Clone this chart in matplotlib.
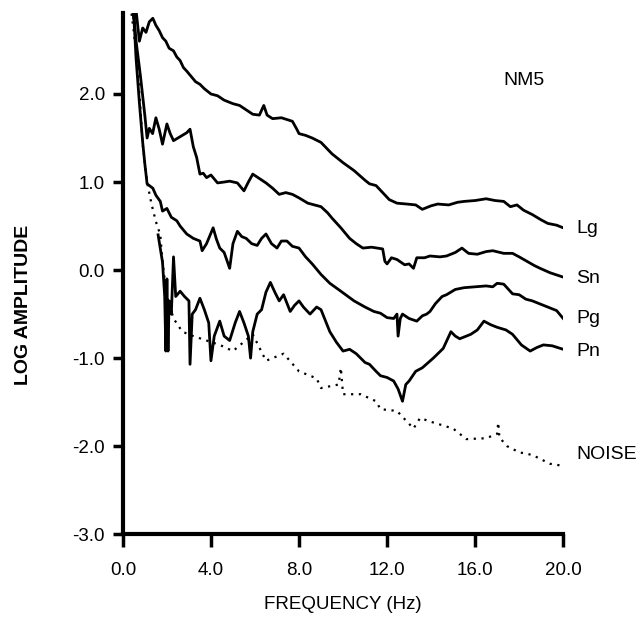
import matplotlib.pyplot as plt

# NM5 spectra
lg_f = [0.35, 0.5, 0.6, 0.75, 0.9, 1.05, 1.2, 1.36, 1.5, 1.65, 1.8, 1.95, 2.1, 2.3, 2.45, 2.6, 2.75, 2.9,
        3.1, 3.3, 3.5, 3.7, 4.0, 4.3, 4.6, 5.0, 5.3, 5.6, 5.9, 6.2, 6.4, 6.55, 6.8, 7.2, 7.7, 7.9, 8.0,
        8.3, 8.6, 9.0, 9.5, 10.0, 10.5, 11.0, 11.2, 11.5, 11.8, 12.1, 12.45, 12.9, 13.3, 13.6, 14.0,
        14.3, 14.8, 15.2, 15.5, 16.0, 16.5, 16.9, 17.3, 17.6, 17.9, 18.2, 18.6, 19.0, 19.3, 19.7, 20.0]
lg_a = [3.1, 2.85, 2.95, 2.6, 2.75, 2.7, 2.82, 2.86, 2.78, 2.72, 2.64, 2.6, 2.52, 2.49, 2.42, 2.38, 2.3, 2.26,
        2.2, 2.14, 2.11, 2.06, 2.0, 1.98, 1.93, 1.89, 1.87, 1.82, 1.77, 1.76, 1.87, 1.76, 1.72, 1.73, 1.69, 1.6, 1.55,
        1.53, 1.5, 1.45, 1.32, 1.22, 1.13, 1.02, 0.98, 0.96, 0.88, 0.8, 0.76, 0.75, 0.74, 0.69, 0.73,
        0.75, 0.74, 0.77, 0.78, 0.79, 0.81, 0.79, 0.78, 0.72, 0.74, 0.68, 0.63, 0.57, 0.53, 0.51, 0.48]

sn_f = [0.4, 0.6, 0.8, 1.0, 1.1, 1.2, 1.35, 1.5, 1.65, 1.8, 2.0, 2.15, 2.3, 2.5, 2.7, 2.9, 3.05, 3.2, 3.35,
        3.5, 3.65, 3.8, 4.0, 4.3, 4.6, 4.85, 5.2, 5.5, 5.7, 5.9, 6.2, 6.5, 6.8, 7.1, 7.4, 7.7, 8.0, 8.4,
        8.7, 9.0, 9.3, 9.5, 9.9, 10.3, 10.6, 10.9, 11.3, 11.8, 11.9, 12.0, 12.2, 12.45, 12.8, 13.0, 13.2,
        13.35, 13.7, 13.95, 14.4, 14.7, 15.1, 15.4, 15.7, 16.1, 16.5, 16.8, 17.3, 17.7, 18.0, 18.35,
        18.7, 18.95, 19.4, 20.0]
sn_a = [3.2, 2.6, 2.2, 1.75, 1.5, 1.61, 1.55, 1.73, 1.6, 1.43, 1.66, 1.55, 1.47, 1.5, 1.53, 1.56, 1.6, 1.4, 1.28,
        1.09, 1.1, 1.05, 1.08, 0.99, 1.0, 1.01, 0.99, 0.9, 1.0, 1.09, 1.04, 0.99, 0.93, 0.86, 0.88, 0.86, 0.82, 0.76,
        0.74, 0.72, 0.65, 0.59, 0.48, 0.36, 0.3, 0.25, 0.26, 0.24, 0.1, 0.07, 0.14, 0.12, 0.06, 0.07, 0.02,
        0.14, 0.14, 0.16, 0.15, 0.16, 0.2, 0.25, 0.19, 0.18, 0.21, 0.22, 0.19, 0.19, 0.15, 0.1,
        0.05, 0.02, -0.03, -0.08]

pg_f = [0.45, 0.6, 0.75, 0.9, 1.0, 1.1, 1.2, 1.36, 1.5, 1.7, 1.8, 2.0, 2.2, 2.45, 2.6, 2.9, 3.2, 3.5, 3.6,
        3.8, 4.1, 4.25, 4.4, 4.6, 4.85, 5.0, 5.2, 5.4, 5.6, 5.85, 6.1, 6.3, 6.5, 6.75, 7.0, 7.2, 7.45, 7.7,
        8.0, 8.3, 8.6, 9.0, 9.4, 9.9, 10.5, 11.0, 11.4, 11.7, 12.0, 12.3, 12.45, 12.5, 12.6, 12.7, 13.0,
        13.35, 13.6, 13.8, 13.95, 14.2, 14.5, 14.7, 15.1, 15.5, 16.0, 16.5, 16.8, 17.0, 17.3, 17.7, 18.0,
        18.3, 18.6, 19.0, 19.4, 19.7, 20.0]
pg_a = [3.1, 2.4, 1.9, 1.45, 1.2, 0.98, 0.96, 0.93, 0.85, 0.78, 0.67, 0.7, 0.6, 0.56, 0.5, 0.41, 0.36, 0.33, 0.22,
        0.3, 0.48, 0.35, 0.25, 0.2, 0.02, 0.3, 0.44, 0.38, 0.36, 0.3, 0.28, 0.36, 0.41, 0.3, 0.25, 0.33, 0.33, 0.27,
        0.25, 0.15, 0.07, -0.05, -0.15, -0.24, -0.35, -0.42, -0.47, -0.49, -0.54, -0.55, -0.5, -0.75, -0.55, -0.5, -0.55,
        -0.58, -0.52, -0.5, -0.47, -0.38, -0.3, -0.28, -0.22, -0.2, -0.19, -0.18, -0.19, -0.15, -0.16, -0.27, -0.28,
        -0.33, -0.35, -0.39, -0.43, -0.46, -0.55]

pn_f = [1.6, 1.8, 1.9, 1.95, 2.0, 2.05, 2.1, 2.2, 2.3, 2.4, 2.6, 2.8, 3.0, 3.05, 3.15, 3.3, 3.5, 3.7, 3.9,
        4.0, 4.15, 4.4, 4.6, 4.85, 5.1, 5.3, 5.5, 5.7, 5.8, 5.9, 6.1, 6.3, 6.5, 6.7, 6.9, 7.1, 7.3, 7.6,
        7.8, 8.0, 8.2, 8.5, 8.8, 9.0, 9.4, 9.7, 10.0, 10.3, 10.6, 11.0, 11.2, 11.5, 11.7, 12.0, 12.3, 12.5,
        12.7, 12.85, 13.0, 13.3, 13.6, 14.1, 14.55, 14.9, 15.1, 15.3, 15.8, 16.1, 16.4, 16.7, 17.0, 17.4,
        17.7, 18.1, 18.5, 18.8, 19.1, 19.5, 20.0]
pn_a = [0.4, 0.09, -0.3, -0.92, -0.1, -0.92, -0.35, -0.5, 0.15, -0.3, -0.24, -0.3, -0.35, -1.07, -0.5, -0.45, -0.32, -0.45, -0.6,
        -1.03, -0.75, -0.58, -0.75, -0.8, -0.6, -0.47, -0.6, -0.75, -1.0, -0.7, -0.5, -0.45, -0.25, -0.14, -0.25, -0.35, -0.28, -0.47,
        -0.4, -0.35, -0.42, -0.5, -0.42, -0.45, -0.7, -0.82, -0.92, -0.9, -0.95, -1.05, -1.07, -1.15, -1.2, -1.22, -1.26, -1.35,
        -1.49, -1.3, -1.26, -1.15, -1.11, -1.0, -0.89, -0.7, -0.75, -0.78, -0.73, -0.68, -0.58, -0.62, -0.65, -0.68,
        -0.73, -0.85, -0.92, -0.88, -0.85, -0.86, -0.9]

noise_f = [0.35, 0.5, 0.7, 0.9, 1.1, 1.3, 1.5, 1.7, 1.8, 2.0, 2.3, 2.7, 3.2, 3.8, 4.4, 5.0, 5.9, 6.5, 7.3,
           8.0, 8.8, 9.0, 9.8, 9.9, 10.0, 10.8, 11.5, 11.7, 12.45, 13.2, 13.5, 13.95, 15.0, 15.6, 16.5,
           17.0, 17.05, 17.1, 17.45, 18.0, 18.6, 19.4, 19.9]
noise_a = [3.0, 2.7, 2.2, 1.43, 1.0, 0.75, 0.55, 0.4, 0.09, -0.3, -0.55, -0.7, -0.75, -0.8, -0.85, -0.92, -0.73, -1.03, -0.95,
           -1.15, -1.23, -1.34, -1.3, -1.11, -1.41, -1.41, -1.49, -1.58, -1.6, -1.8, -1.68, -1.72, -1.8, -1.92, -1.91,
           -1.86, -1.73, -1.9, -2.0, -2.07, -2.1, -2.2, -2.22]

curve_labels = ["Lg", "Sn", "Pg", "Pn", "NOISE"]
label_y = [0.47, -0.1, -0.55, -0.92, -2.1]

y_ticks = [2.0, 1.0, 0.0, -1.0, -2.0, -3.0]
y_ticklabels = ["2.0", "1.0", "0.0", "-1.0", "-2.0", "-3.0"]
x_ticks = [0, 4, 8, 12, 16, 20]
x_ticklabels = ["0.0", "4.0", "8.0", "12.0", "16.0", "20.0"]

plt.rcParams["font.family"] = ["Liberation Sans", "DejaVu Sans"]

fig = plt.figure(figsize=(6.4, 6.19), dpi=100)
ax = fig.add_axes([0.192, 0.137, 0.688, 0.842])

for f, a in [(lg_f, lg_a), (sn_f, sn_a), (pg_f, pg_a), (pn_f, pn_a)]:
    ax.plot(f, a, color="black", lw=2.0)
ax.plot(noise_f, noise_a, color="black", lw=1.6, linestyle=(0, (1, 2.5)))

for name, y in zip(curve_labels, label_y):
    ax.text(20.6, y, name, fontsize=14, va="center", ha="left", clip_on=False)
ax.text(18.2, 2.15, "NM5", fontsize=14, ha="center", va="center")

ax.set_xlim(0, 20)
ax.set_ylim(-3.0, 2.92)
ax.set_xticks(x_ticks)
ax.set_xticklabels(x_ticklabels, fontsize=13.5)
ax.set_yticks(y_ticks)
ax.set_yticklabels(y_ticklabels, fontsize=13.5)
ax.tick_params(axis="y", direction="out", length=7, width=2.5, pad=6)
ax.tick_params(axis="x", direction="out", length=9, width=2.5, pad=11)

for side in ["top", "right"]:
    ax.spines[side].set_visible(False)
for side in ["left", "bottom"]:
    ax.spines[side].set_linewidth(3)

ax.set_xlabel("FREQUENCY (Hz)", fontsize=13.5)
ax.set_ylabel("LOG AMPLITUDE", fontsize=14, fontweight="bold")
ax.xaxis.set_label_coords(0.5, -0.118)
ax.yaxis.set_label_coords(-0.207, 0.44)

fig.savefig("out.png", dpi=100)
